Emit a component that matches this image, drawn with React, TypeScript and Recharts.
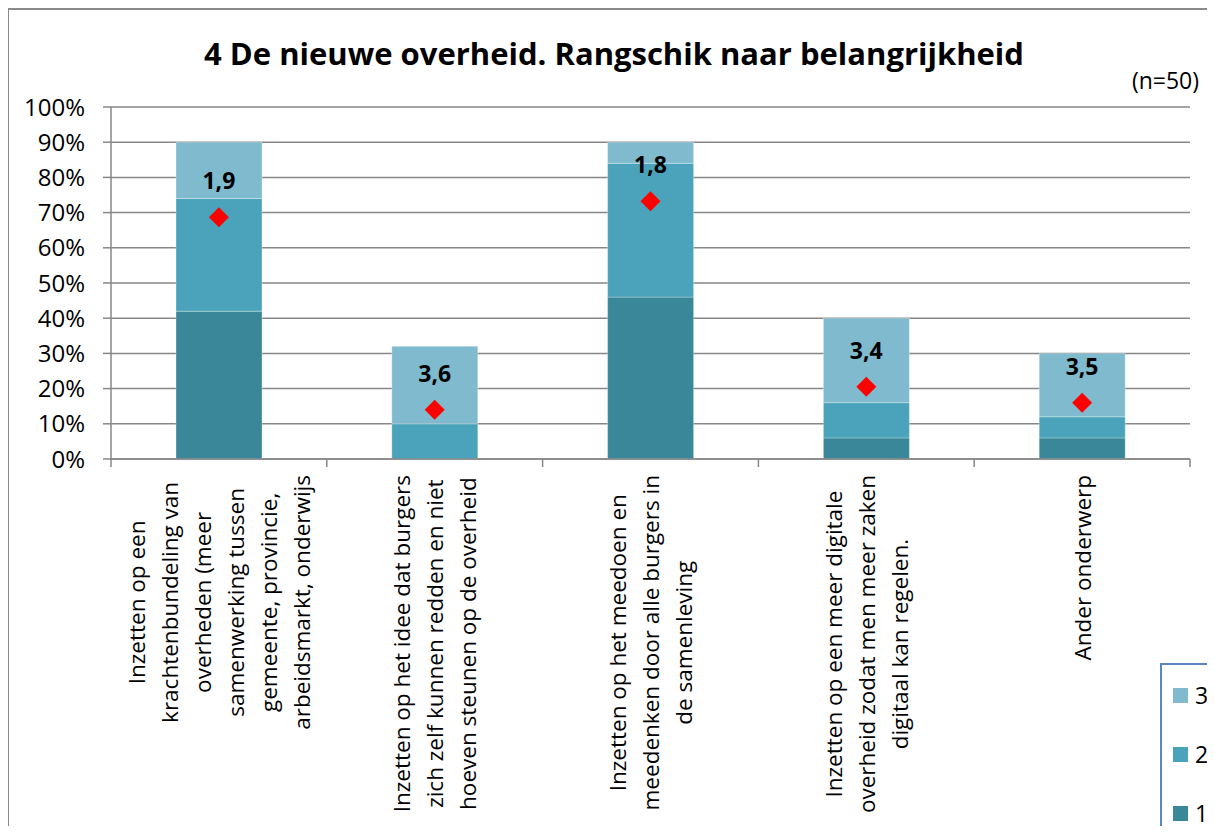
import React from 'react';
import { ComposedChart, Bar, Line, XAxis, YAxis, CartesianGrid, LabelList, Legend } from 'recharts';

const categoryLines: string[][] = [
  ['Inzetten op een', 'krachtenbundeling van', 'overheden (meer', 'samenwerking tussen', 'gemeente, provincie,', 'arbeidsmarkt, onderwijs'],
  ['Inzetten op het idee dat burgers', 'zich zelf kunnen redden en niet', 'hoeven steunen op de overheid'],
  ['Inzetten op het meedoen en', 'meedenken door alle burgers in', 'de samenleving'],
  ['Inzetten op een meer digitale', 'overheid zodat men meer zaken', 'digitaal kan regelen.'],
  ['Ander onderwerp'],
];
const rank1 = [42, 0, 46, 6, 6];
const rank2 = [32, 10, 38, 10, 6];
const rank3 = [16, 22, 6, 24, 18];
const markerValues = [68.7, 14, 73.2, 20.5, 16];
const averageRanks = ['1,9', '3,6', '1,8', '3,4', '3,5'];
const yTicks = [0, 10, 20, 30, 40, 50, 60, 70, 80, 90, 100];
const legendItems = [
  { key: 'r3', label: '3' },
  { key: 'r2', label: '2' },
  { key: 'r1', label: '1' },
];

const colors: Record<string, string> = { r1: '#3A8799', r2: '#4AA3BA', r3: '#7FBACE' };
const FONT = "'Open Sans', 'Liberation Sans', sans-serif";
const GRID = '#878787';

const data = categoryLines.map((lines, i) => ({
  name: lines.join(' '),
  r1: rank1[i],
  r2: rank2[i],
  r3: rank3[i],
  marker: markerValues[i],
  avg: averageRanks[i],
}));

let ctx: CanvasRenderingContext2D | null = null;
const measure = (text: string, font: string) => {
  if (!ctx) ctx = document.createElement('canvas').getContext('2d');
  if (!ctx) return text.length * 11;
  ctx.font = font;
  return ctx.measureText(text).width;
};

const LABEL_SIZE = 22.5;
const LINE_GAP = 33;
const TICK_MARGIN = 16;
const EDGE_TICK = 8;

const CategoryTick = (props: any) => {
  const { x, y, payload, index, visibleTicksCount } = props;
  const idx = data.findIndex((d) => d.name === payload.value);
  const lines = categoryLines[idx] || [String(payload.value)];
  const maxW = Math.max(...lines.map((l) => measure(l, `${LABEL_SIZE}px 'Open Sans'`)));
  const cy = y + maxW / 2;
  const n = lines.length;
  const half = typeof payload.offset === 'number' ? payload.offset : 0;
  const axisY = y - TICK_MARGIN;
  const count = visibleTicksCount ?? data.length;
  return (
    <g>
      {half > 0 && (
        <line x1={x - half} x2={x - half} y1={axisY} y2={axisY + EDGE_TICK} stroke={GRID} strokeWidth={1.5} />
      )}
      {half > 0 && index === count - 1 && (
        <line x1={x + half} x2={x + half} y1={axisY} y2={axisY + EDGE_TICK} stroke={GRID} strokeWidth={1.5} />
      )}
      {lines.map((l, j) => {
        const lx = x + (j - (n - 1) / 2) * LINE_GAP;
        return (
          <text
            key={j}
            x={lx}
            y={cy}
            transform={`rotate(-90 ${lx} ${cy})`}
            textAnchor="middle"
            dominantBaseline="central"
            fontFamily={FONT}
            fontSize={LABEL_SIZE}
            fill="#000"
          >
            {l}
          </text>
        );
      })}
    </g>
  );
};

const Diamond = (props: any) => {
  const { cx, cy } = props;
  if (cx == null || cy == null) return null;
  const r = 10;
  return <path d={`M${cx},${cy - r}L${cx + r},${cy}L${cx},${cy + r}L${cx - r},${cy}Z`} fill="#FF0000" />;
};

const AvgLabel = (props: any) => {
  const { x, y, index } = props;
  return (
    <text x={x} y={y - 37} textAnchor="middle" dominantBaseline="central" fontFamily={FONT} fontWeight="bold" fontSize={23} fill="#000">
      {averageRanks[index]}
    </text>
  );
};

const LegendBox = () => (
  <div
    style={{
      width: 120,
      height: 200,
      border: '2px solid #5B85C4',
      background: '#fff',
      boxSizing: 'border-box',
      fontFamily: FONT,
      position: 'relative',
    }}
  >
    {legendItems.map((it, i) => (
      <div key={it.key} style={{ position: 'absolute', left: 11, top: 19 + i * 59, display: 'flex', alignItems: 'center', height: 22 }}>
        <span style={{ display: 'inline-block', width: 15, height: 15, background: colors[it.key], marginRight: 7 }} />
        <span style={{ fontSize: 23, color: '#000', lineHeight: '22px' }}>{it.label}</span>
      </div>
    ))}
  </div>
);

export default function App() {
  return (
    <div style={{ margin: -8, width: 1215, height: 834, position: 'relative', overflow: 'hidden', background: '#fff' }}>
      <div
        style={{
          position: 'absolute',
          left: 0,
          width: 1228,
          top: 31,
          textAlign: 'center',
          fontFamily: FONT,
          fontWeight: 'bold',
          fontSize: 31,
          color: '#000',
          lineHeight: '44px',
          whiteSpace: 'nowrap',
        }}
      >
        4 De nieuwe overheid. Rangschik naar belangrijkheid
      </div>
      <div
        style={{
          position: 'absolute',
          right: 16,
          top: 64,
          fontFamily: FONT,
          fontSize: 23,
          color: '#000',
          lineHeight: '32px',
        }}
      >
        (n=50)
      </div>
      <div style={{ position: 'absolute', left: 0, top: 0 }}>
        <ComposedChart width={1215} height={834} data={data} margin={{ top: 107, right: 25, bottom: 0, left: 0 }}>
          <CartesianGrid horizontal vertical={false} stroke={GRID} strokeWidth={1.5} />
          <XAxis
            dataKey="name"
            interval={0}
            tickLine={false}
            tickSize={0}
            tickMargin={TICK_MARGIN}
            axisLine={{ stroke: GRID, strokeWidth: 1.5 }}
            height={375}
            tick={<CategoryTick />}
          />
          <YAxis
            domain={[0, 100]}
            ticks={yTicks}
            interval={0}
            tickFormatter={(v: number) => `${v}%`}
            width={111}
            tickSize={8}
            tickMargin={18}
            axisLine={{ stroke: GRID, strokeWidth: 1.5 }}
            tickLine={{ stroke: GRID, strokeWidth: 1.5 }}
            tick={{ fill: '#000', fontSize: 24, fontFamily: FONT }}
          />
          <Bar dataKey="r1" stackId="s" fill={colors.r1} barSize={86} isAnimationActive={false} stroke="#ffffff" strokeOpacity={0.3} />
          <Bar dataKey="r2" stackId="s" fill={colors.r2} barSize={86} isAnimationActive={false} stroke="#ffffff" strokeOpacity={0.3} />
          <Bar dataKey="r3" stackId="s" fill={colors.r3} barSize={86} isAnimationActive={false} stroke="#ffffff" strokeOpacity={0.3} />
          <Line
            dataKey="marker"
            stroke="none"
            dot={<Diamond />}
            activeDot={false}
            isAnimationActive={false}
            legendType="none"
          >
            <LabelList dataKey="marker" content={<AvgLabel />} />
          </Line>
          <Legend
            layout="vertical"
            align="center"
            verticalAlign="middle"
            content={<LegendBox />}
            wrapperStyle={{ position: 'absolute', left: 1160, top: 663, width: 120, height: 200 }}
          />
        </ComposedChart>
      </div>
      <div
        style={{
          position: 'absolute',
          left: 7,
          top: 8,
          width: 1400,
          height: 1000,
          borderLeft: '2px solid #8a8a8a',
          borderTop: '2px solid #8a8a8a',
          pointerEvents: 'none',
          zIndex: 5,
        }}
      />
    </div>
  );
}
